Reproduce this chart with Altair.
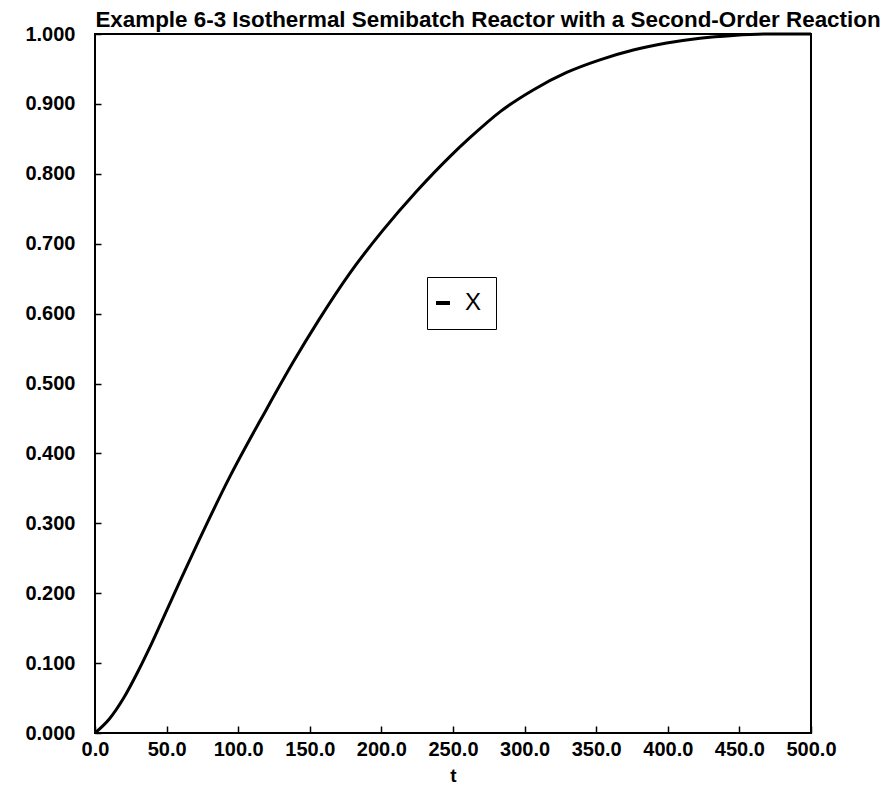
import altair as alt
import pandas as pd

t_vals = [0, 10, 20, 30, 40, 50, 60, 72, 94, 120, 138.5, 156,
          178, 201, 224.6, 248, 262, 283, 306, 329.4, 352.6, 375.9,
          399.2, 422.5, 445.7, 470, 500]
x_vals = [0, 0.020, 0.050, 0.088, 0.130, 0.175, 0.220, 0.273, 0.366, 0.464, 0.531, 0.590,
          0.658, 0.719, 0.775, 0.825, 0.852, 0.889, 0.920, 0.945, 0.963, 0.977,
          0.987, 0.994, 0.998, 1.000, 1.000]
series_name = "X"
x_ticks = [0, 50, 100, 150, 200, 250, 300, 350, 400, 450, 500]
y_ticks = [0.0, 0.1, 0.2, 0.3, 0.4, 0.5, 0.6, 0.7, 0.8, 0.9, 1.0]
title_text = "Example 6-3 Isothermal Semibatch Reactor with a Second-Order Reaction"

df = pd.DataFrame({"t": t_vals, "X": x_vals, "series": series_name})

FONT = "Liberation Sans"
W, H = 716, 699
xscale = alt.Scale(domain=[0, 500], nice=False, zero=False)
yscale = alt.Scale(domain=[0, 1], nice=False, zero=False)

# inward tick marks drawn as short dashes of the grid lines at the plot edges
x_axis = alt.Axis(orient="bottom", values=x_ticks, format=".1f", ticks=False, tickSize=0,
                  domain=False, grid=True, gridColor="black", gridWidth=1.5,
                  gridDash=[7, H - 7], gridDashOffset=7,
                  labelFont=FONT, labelFontSize=20,
                  labelFontWeight="bold", labelColor="black", labelPadding=6,
                  labelFlush=False, labelOverlap=False,
                  title="t", titleFont=FONT, titleFontSize=19, titleFontWeight="bold",
                  titleColor="black", titlePadding=7)
y_axis = alt.Axis(orient="left", values=y_ticks, format=".3f", ticks=False, tickSize=0,
                  domain=False, grid=True, gridColor="black", gridWidth=1.5,
                  gridDash=[6, W - 6], gridDashOffset=0,
                  labelFont=FONT, labelFontSize=20,
                  labelFontWeight="bold", labelColor="black", labelPadding=20,
                  labelFlush=False, labelOverlap=False, title=None)

chart = alt.Chart(df).mark_line(strokeWidth=3, interpolate="monotone").encode(
    x=alt.X("t:Q", scale=xscale, axis=x_axis),
    y=alt.Y("X:Q", scale=yscale, axis=y_axis),
    color=alt.Color("series:N", scale=alt.Scale(range=["black"]),
                    legend=alt.Legend(title=None, orient="none", legendX=332, legendY=243,
                                      strokeColor="black", fillColor="white", padding=14,
                                      symbolType="stroke", symbolSize=196, symbolStrokeWidth=4,
                                      symbolOffset=-10,
                                      labelFont=FONT, labelFontSize=24, labelColor="black",
                                      labelOffset=10, labelExpr="datum.label + ' '")),
).properties(
    width=W, height=H,
    title=alt.TitleParams(title_text, font=FONT, fontSize=22.4, fontWeight="bold",
                          color="black", anchor="middle", dx=35, dy=12, offset=5),
    autosize=alt.AutoSizeParams(type="none"),
    padding={"left": 95, "top": 34, "right": 82, "bottom": 56},
    background="white",
).configure_view(stroke="black", strokeWidth=2)

chart.save("out.html", embed_options={"renderer": "svg", "actions": False})
